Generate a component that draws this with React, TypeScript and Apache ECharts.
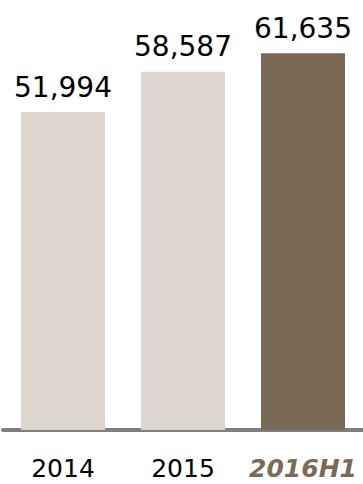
import React, { useEffect, useRef } from "react";
import * as echarts from "echarts";

const categories = ["2014", "2015", "2016H1"];
const values = [51994, 58587, 61635];
const barColors = ["#DDD6CC", "#DDD6CC", "#7B6A55"];

export default function App() {
  const ref = useRef<HTMLDivElement>(null);
  useEffect(() => {
    const chart = echarts.init(ref.current!, undefined, { renderer: "svg" });
    chart.setOption({
      animation: false,
      grid: { left: 3, right: -1, top: 2, bottom: 54 },
      xAxis: {
        type: "category",
        data: categories.map((c, i) =>
          i === 2
            ? { value: c, textStyle: { color: "#7B6A55", fontWeight: "bold", fontStyle: "italic" } }
            : c
        ),
        axisLine: { lineStyle: { color: "#808080", width: 4 } },
        axisTick: { show: false },
        axisLabel: {
          interval: 0,
          hideOverlap: false,
          fontFamily: "DejaVu Sans",
          fontSize: 25,
          lineHeight: 25,
          color: "#000",
          margin: 26,
        },
      },
      yAxis: { type: "value", min: 0, max: 70000, show: false, splitLine: { show: false } },
      series: [
        {
          type: "bar",
          barCategoryGap: "30%",
          data: values.map((v, i) => ({ value: v, itemStyle: { color: barColors[i] } })),
          label: {
            show: true,
            position: "top",
            distance: 11,
            fontFamily: "DejaVu Sans",
            fontSize: 28,
            color: "#000",
            formatter: (p: any) => p.value.toLocaleString("en-US"),
          },
        },
      ],
    });
    return () => chart.dispose();
  }, []);
  return (
    <div
      ref={ref}
      style={{ position: "absolute", left: 0, top: 0, width: 363, height: 484 }}
    />
  );
}
